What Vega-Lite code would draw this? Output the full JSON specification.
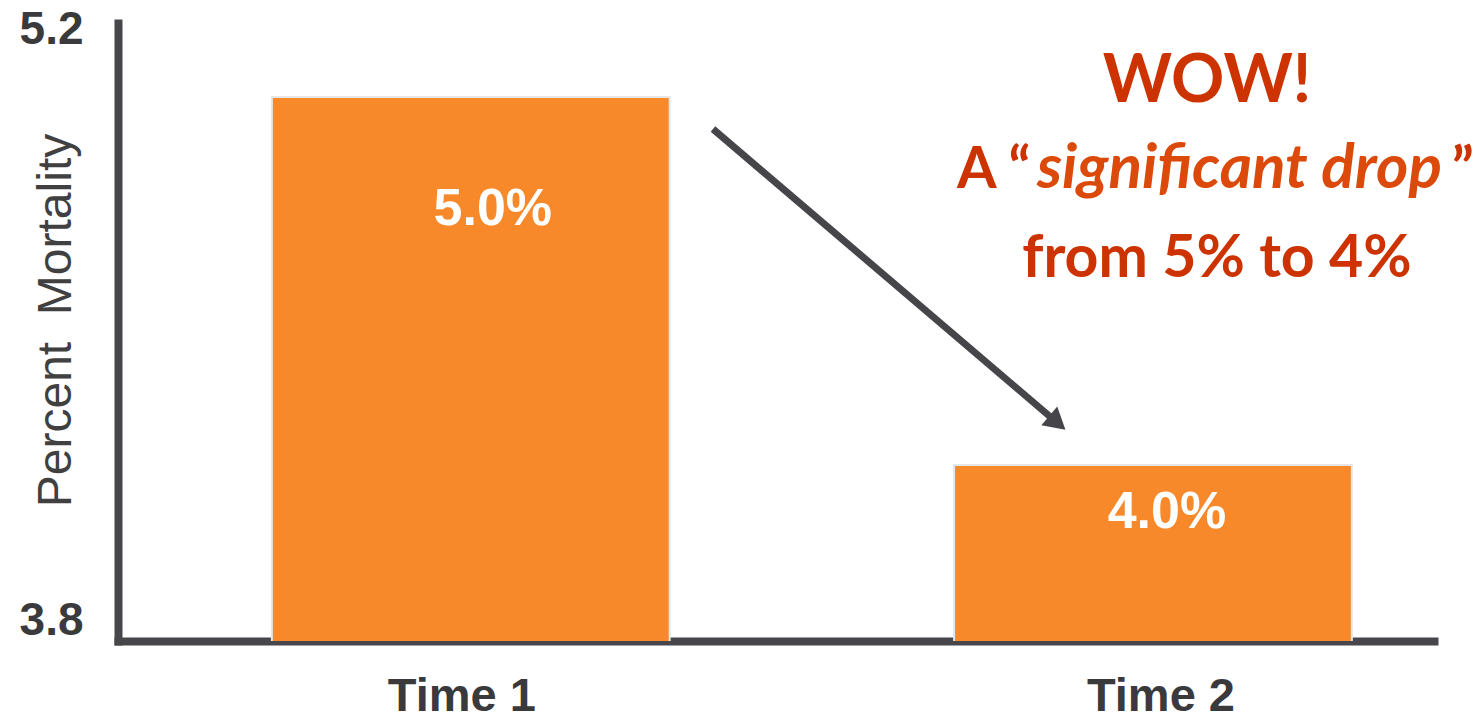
{
  "$schema": "https://vega.github.io/schema/vega-lite/v6.json",
  "width": 1316,
  "height": 618,
  "autosize": {"type": "none"},
  "padding": {"left": 118, "top": 23, "right": 46, "bottom": 76},
  "background": "white",
  "config": {"view": {"stroke": null}},
  "datasets": {
    "bars": [
      {"time": "Time 1", "pct": 5.0},
      {"time": "Time 2", "pct": 4.0}
    ],
    "arrow": [
      {"x1": 0.4521, "y1": 4.913, "x2": 0.7138, "y2": 4.1147}
    ],
    "notes": [
      {"label": "WOW!", "part": "head", "ax": 0.8275, "ay": 4.9864},
      {"label": "A “", "part": "lead", "ax": 0.6375, "ay": 4.7527},
      {"label": "significant drop", "part": "italic", "ax": 0.6983, "ay": 4.7527},
      {"label": "”", "part": "lead", "ax": 1.0135, "ay": 4.7527},
      {"label": "from 5% to 4%", "part": "line3", "ax": 0.8351, "ay": 4.5109}
    ]
  },
  "layer": [
    {
      "data": {"name": "bars"},
      "transform": [{"calculate": "format(datum.pct, '.1f') + '%'", "as": "pctLabel"}],
      "encoding": {
        "x": {
          "field": "time",
          "type": "nominal",
          "sort": null,
          "scale": {"paddingInner": 0.4169, "paddingOuter": 0.173, "align": 0.652},
          "axis": {
            "title": null,
            "labelAngle": 0,
            "labelFont": "Liberation Sans",
            "labelFontSize": 47,
            "labelFontWeight": "bold",
            "labelColor": "#3a3a3c",
            "labelBaseline": "top",
            "labelPadding": 32,
            "labelOffset": {"expr": "datum.value == 'Time 1' ? -9 : 8"},
            "ticks": false,
            "grid": false,
            "domainColor": "#47474b",
            "domainWidth": 8,
            "domainCap": "square"
          }
        },
        "y": {
          "field": "pct",
          "type": "quantitative",
          "scale": {"domain": [3.5218, 5.2011], "nice": false, "zero": false},
          "axis": {
            "title": "Percent\u00a0\u00a0Mortality",
            "titleFont": "Liberation Sans",
            "titleFontSize": 48,
            "titleFontWeight": "normal",
            "titleColor": "#404040",
            "titleAngle": 270,
            "titleAlign": "center",
            "titleBaseline": "middle",
            "titleX": -62,
            "titleY": 297,
            "values": [3.8, 5.2],
            "format": ".1f",
            "labelFont": "Liberation Sans",
            "labelFontSize": 46,
            "labelFontWeight": "bold",
            "labelColor": "#3a3a3c",
            "labelPadding": 35,
            "labelBaseline": "middle",
            "labelOffset": {"expr": "datum.value < 4 ? 81.6 : 5.8"},
            "ticks": false,
            "grid": false,
            "domainColor": "#47474b",
            "domainWidth": 8,
            "domainCap": "square"
          }
        }
      },
      "layer": [
        {
          "mark": {"type": "bar", "color": "#f7892a", "stroke": "#e6e6e6", "strokeWidth": 2, "clip": true}
        },
        {
          "transform": [{"filter": "datum.time == 'Time 1'"}],
          "mark": {"type": "text", "font": "Liberation Sans", "fontSize": 52, "fontWeight": "bold", "color": "white", "baseline": "middle", "dy": 112, "dx": 22},
          "encoding": {"text": {"field": "pctLabel"}}
        },
        {
          "transform": [{"filter": "datum.time == 'Time 2'"}],
          "mark": {"type": "text", "font": "Liberation Sans", "fontSize": 52, "fontWeight": "bold", "color": "white", "baseline": "middle", "dy": 47, "dx": 14},
          "encoding": {"text": {"field": "pctLabel"}}
        }
      ]
    },
    {
      "layer": [
        {
          "data": {"name": "arrow"},
          "mark": {"type": "rule", "color": "#46464a", "strokeWidth": 7},
          "encoding": {
            "x": {"field": "x1", "type": "quantitative", "scale": {"domain": [0, 1], "nice": false, "zero": false}, "axis": null},
            "x2": {"field": "x2"},
            "y": {"field": "y1", "type": "quantitative", "axis": null},
            "y2": {"field": "y2"}
          }
        },
        {
          "data": {"name": "arrow"},
          "mark": {"type": "point", "shape": "triangle-right", "filled": true, "color": "#46464a", "opacity": 1, "size": 600, "angle": 40.5},
          "encoding": {
            "x": {"field": "x2", "type": "quantitative", "scale": {"domain": [0, 1], "nice": false, "zero": false}, "axis": null},
            "y": {"field": "y2", "type": "quantitative", "axis": null}
          }
        },
        {
          "data": {"name": "notes"},
          "transform": [{"filter": "datum.part == 'head'"}],
          "mark": {"type": "text", "font": "Lato", "fontSize": 66, "fontWeight": "bold", "color": "#cc3300", "align": "center", "baseline": "alphabetic"},
          "encoding": {
            "x": {"field": "ax", "type": "quantitative", "scale": {"domain": [0, 1], "nice": false, "zero": false}, "axis": null},
            "y": {"field": "ay", "type": "quantitative", "axis": null},
            "text": {"field": "label"}
          }
        },
        {
          "data": {"name": "notes"},
          "transform": [{"filter": "datum.part == 'lead'"}],
          "mark": {"type": "text", "font": "Lato", "fontSize": 57, "fontWeight": "bold", "color": "#cc3300", "align": "left", "baseline": "alphabetic"},
          "encoding": {
            "x": {"field": "ax", "type": "quantitative", "scale": {"domain": [0, 1], "nice": false, "zero": false}, "axis": null},
            "y": {"field": "ay", "type": "quantitative", "axis": null},
            "text": {"field": "label"}
          }
        },
        {
          "data": {"name": "notes"},
          "transform": [{"filter": "datum.part == 'italic'"}],
          "mark": {"type": "text", "font": "Lato", "fontSize": 62, "fontWeight": "bold", "fontStyle": "italic", "color": "#db4a0b", "align": "left", "baseline": "alphabetic"},
          "encoding": {
            "x": {"field": "ax", "type": "quantitative", "scale": {"domain": [0, 1], "nice": false, "zero": false}, "axis": null},
            "y": {"field": "ay", "type": "quantitative", "axis": null},
            "text": {"field": "label"}
          }
        },
        {
          "data": {"name": "notes"},
          "transform": [{"filter": "datum.part == 'line3'"}],
          "mark": {"type": "text", "font": "Lato", "fontSize": 59, "fontWeight": "bold", "color": "#cc3300", "align": "center", "baseline": "alphabetic"},
          "encoding": {
            "x": {"field": "ax", "type": "quantitative", "scale": {"domain": [0, 1], "nice": false, "zero": false}, "axis": null},
            "y": {"field": "ay", "type": "quantitative", "axis": null},
            "text": {"field": "label"}
          }
        }
      ]
    }
  ],
  "resolve": {"scale": {"x": "independent"}, "axis": {"y": "independent"}}
}
